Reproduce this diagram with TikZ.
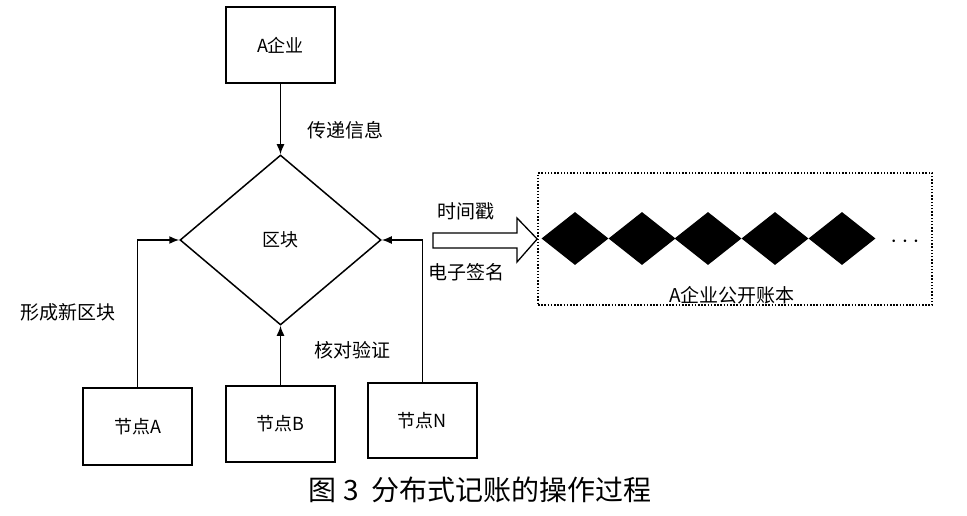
\documentclass[tikz,border=0pt]{standalone}
\usepackage{fontspec}
\setmainfont{Noto Sans CJK SC}
\usetikzlibrary{arrows.meta,shapes.geometric}
\begin{document}
\begin{tikzpicture}[x=1pt,y=-1pt,
  box/.style={draw, line width=1.5pt, minimum width=109pt, minimum height=76pt, inner sep=0pt, font=\fontsize{18}{20}\selectfont},
  lbl/.style={font=\fontsize{19}{20}\selectfont, inner sep=0pt},
  conn/.style={line width=1.5pt, -{Latex[length=10pt,width=8pt]}},
  chainblk/.style={diamond, fill=black, minimum width=67pt, minimum height=53pt, inner sep=0pt}]
\useasboundingbox (0,0) rectangle (967,516);
% main nodes
\node[box] (ent) at (280.5,45) {A企业};
\node[draw, diamond, line width=1.5pt, minimum width=201pt, minimum height=170pt, inner sep=0pt, font=\fontsize{18}{20}\selectfont] (blk) at (280.5,240) {区块};
\node[box, minimum height=77pt] (na) at (137.5,426.5) {节点A};
\node[box] (nb) at (280.5,424) {节点B};
\node[box, minimum height=75pt] (nn) at (422.5,420.5) {节点N};
% connectors
\draw[conn] (ent.south) -- (blk.north);
\draw[conn] (nb.north) -- (blk.south);
\draw[conn] (na.north) |- (blk.west);
\draw[conn] (nn.north) |- (blk.east);
% labels
\node[lbl] (l1) at (345,130) {传递信息};
\node[lbl] (l2) at (68,312) {形成新区块};
\node[lbl] (l3) at (352,350) {核对验证};
\node[lbl] (l4) at (466,211) {时间戳};
\node[lbl] (l5) at (466,272) {电子签名};
% ledger
\node[draw, line width=1.6pt, dash pattern=on 1.5pt off 1.7pt, minimum width=394pt, minimum height=132pt, inner sep=0pt] (ledger) at (735,239) {};
\foreach \i/\x in {1/575,2/642,3/708,4/775,5/842}
  \node[chainblk] (c\i) at (\x,238.5) {};
\node[inner sep=0pt, font=\fontsize{24}{24}\selectfont] (dots) at (905,242) {$\cdots$};
\node[lbl] (ltitle) at (732,295) {A企业公开账本};
% hollow block arrow
\coordinate (ha) at (433,240.5);
\draw[line width=1.3pt, fill=white] (ha) ++(0,-7.5) -- ++(84,0) -- ++(0,-15) -- (ledger.west) -- (517,262) -- ++(0,-14) -- ++(-84,0) -- cycle;
% caption
\node[inner sep=0pt, font=\fontsize{28}{30}\selectfont] (cap) at (480,490) {图 3\ \ 分布式记账的操作过程};
\end{tikzpicture}
\end{document}
